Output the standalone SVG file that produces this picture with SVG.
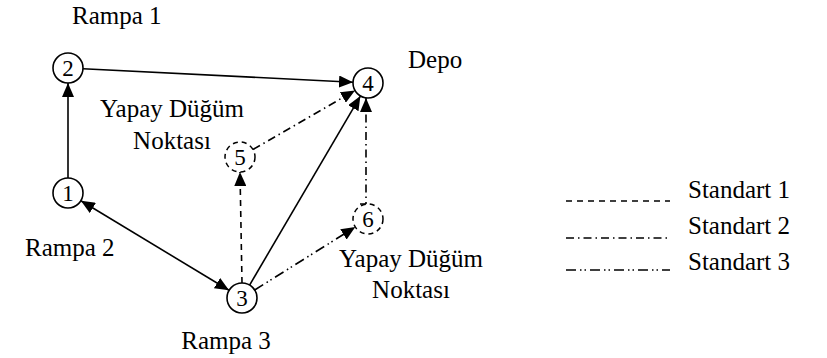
<svg xmlns="http://www.w3.org/2000/svg" width="827" height="358" viewBox="0 0 827 358">
  <style>
    text { font-family: "Liberation Serif", "Times New Roman", serif; font-size: 25px; fill: #000; }
    .num { font-size: 23px; text-anchor: middle; }
    .node { fill: #fff; stroke: #000; stroke-width: 1.6; }
    .virtual { fill: #fff; stroke: #000; stroke-width: 1.5; stroke-dasharray: 5 4; }
    .edge { fill: none; stroke: #000; stroke-width: 1.6; }
    .std1 { stroke-dasharray: 6 5; }
    .std2 { stroke-dasharray: 8 4 1.5 4; }
    .std3 { stroke-dasharray: 10 4 1.5 3 1.5 4; }
    .mid { text-anchor: middle; }
  </style>
  <defs>
    <marker id="arrow" markerUnits="userSpaceOnUse" markerWidth="14" markerHeight="12" refX="14" refY="6" orient="auto-start-reverse">
      <path d="M0,0 L14,6 L0,12 z" fill="#000"/>
    </marker>
  </defs>

  <!-- connectors -->
  <g id="connectors">
    <line class="edge" x1="68" y1="178" x2="68" y2="83" marker-end="url(#arrow)"/>
    <line class="edge" x1="83" y1="68.8" x2="353" y2="82.2" marker-end="url(#arrow)"/>
    <line class="edge" x1="80.9" y1="200.7" x2="229" y2="290.3" marker-start="url(#arrow)" marker-end="url(#arrow)"/>
    <line class="edge" x1="249.6" y1="285.1" x2="360.4" y2="96.1" marker-end="url(#arrow)"/>
    <line class="edge std1" x1="242" y1="283" x2="240" y2="172" marker-end="url(#arrow)"/>
    <line class="edge std2" x1="253" y1="149.5" x2="355" y2="90.5" marker-end="url(#arrow)"/>
    <line class="edge std3" x1="254.7" y1="290" x2="355.3" y2="227" marker-end="url(#arrow)"/>
    <path class="edge std2" d="M360,204 H366 V98" marker-end="url(#arrow)"/>
  </g>

  <!-- nodes -->
  <g id="node1">
    <circle class="node" cx="68" cy="193" r="15"/>
    <text class="num" x="68" y="201">1</text>
  </g>
  <g id="node2">
    <circle class="node" cx="68" cy="68" r="15"/>
    <text class="num" x="68" y="76">2</text>
  </g>
  <g id="node3">
    <circle class="node" cx="242" cy="298" r="15"/>
    <text class="num" x="242" y="306">3</text>
  </g>
  <g id="node4">
    <circle class="node" cx="368" cy="83" r="15"/>
    <text class="num" x="368" y="91">4</text>
  </g>
  <g id="node5">
    <circle class="virtual" cx="240" cy="157" r="15"/>
    <text class="num" x="240" y="165">5</text>
  </g>
  <g id="node6">
    <circle class="virtual" cx="368" cy="219" r="15"/>
    <text class="num" x="368" y="227">6</text>
  </g>

  <!-- labels -->
  <g id="labels">
    <text x="72" y="24">Rampa 1</text>
    <text x="408" y="68">Depo</text>
    <text class="mid" x="172" y="117">Yapay Düğüm</text>
    <text class="mid" x="172" y="149">Noktası</text>
    <text x="25" y="256">Rampa 2</text>
    <text class="mid" x="411" y="267">Yapay Düğüm</text>
    <text class="mid" x="411" y="298">Noktası</text>
    <text class="mid" x="226" y="349">Rampa 3</text>
  </g>

  <!-- legend -->
  <g id="legend">
    <line class="edge std1" x1="566" y1="201" x2="670" y2="201"/>
    <text x="688" y="198">Standart 1</text>
    <line class="edge std2" x1="566" y1="238" x2="670" y2="238"/>
    <text x="688" y="234">Standart 2</text>
    <line class="edge std3" x1="566" y1="270" x2="670" y2="270"/>
    <text x="688" y="270">Standart 3</text>
  </g>
</svg>
